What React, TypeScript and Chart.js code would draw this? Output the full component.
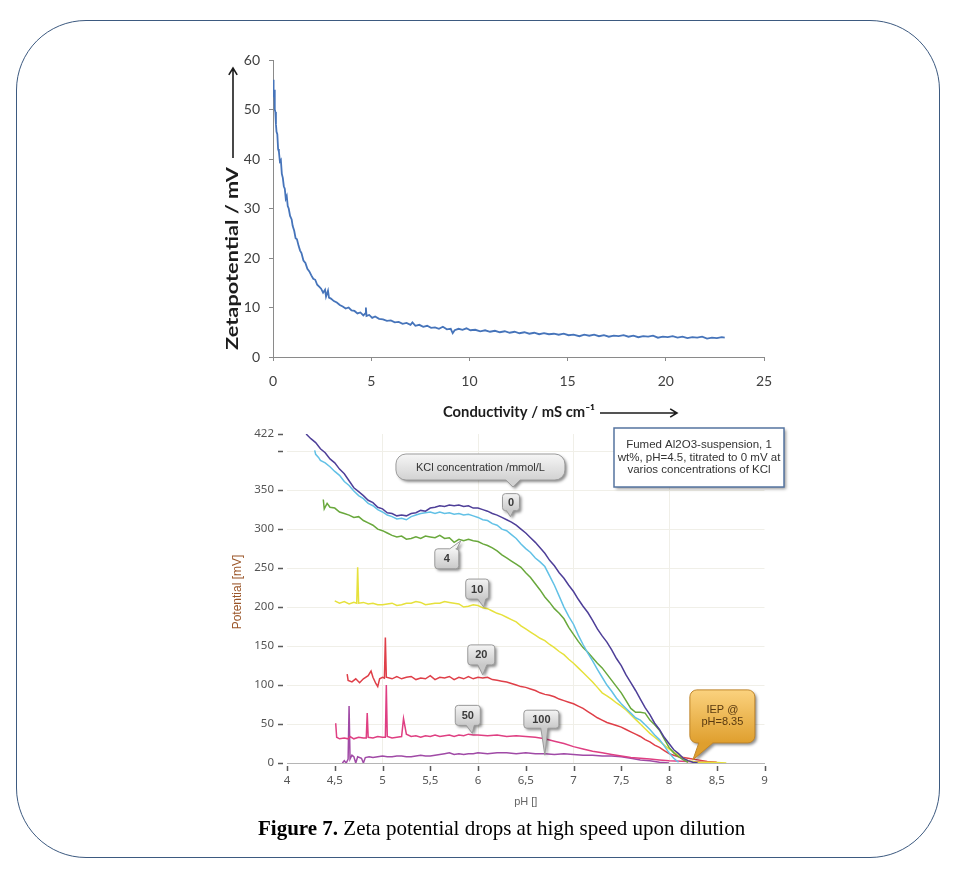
import React, { useEffect, useRef } from "react";
import { Chart, registerables } from "chart.js";

Chart.register(...registerables);

// ---------------- Top chart: conductivity (mS/cm) -> zeta potential (mV)
const zetaCurve: [number, number][] = [
  [0.0, 56.0], [0.03, 52.5], [0.06, 54.0], [0.09, 50.0], [0.12, 49.5], [0.15, 47.0],
  [0.18, 45.5], [0.22, 45.0], [0.26, 42.0], [0.3, 41.5], [0.35, 39.5], [0.4, 39.8],
  [0.45, 37.0], [0.5, 36.2], [0.55, 34.5], [0.6, 34.0], [0.65, 32.0], [0.7, 32.5],
  [0.75, 30.5], [0.8, 30.0], [0.87, 28.5], [0.95, 27.8], [1.0, 26.5], [1.08, 25.5],
  [1.15, 24.0], [1.22, 23.8], [1.3, 22.5], [1.38, 21.5], [1.45, 21.0], [1.55, 19.5],
  [1.65, 19.0], [1.75, 17.8], [1.85, 17.3], [1.95, 16.5], [2.05, 15.8], [2.15, 15.6],
  [2.25, 14.6], [2.35, 14.2], [2.45, 13.8], [2.55, 13.0], [2.65, 13.6], [2.7, 12.2],
  [2.8, 13.4], [2.85, 12.0], [2.95, 11.8], [3.1, 11.3], [3.25, 11.0], [3.4, 10.5],
  [3.55, 10.2], [3.7, 9.8], [3.85, 10.0], [4.0, 9.4], [4.15, 9.3], [4.3, 8.8],
  [4.45, 9.0], [4.6, 8.4], [4.7, 8.8], [4.73, 10.0], [4.76, 8.3], [4.9, 8.5],
  [5.05, 7.9], [5.2, 8.2], [5.4, 7.7], [5.6, 7.6], [5.8, 7.3], [6.0, 7.4],
  [6.2, 7.0], [6.4, 7.1], [6.6, 6.7], [6.8, 6.9], [7.0, 6.5], [7.1, 7.0],
  [7.25, 6.3], [7.45, 6.5], [7.65, 6.1], [7.85, 6.3], [8.05, 5.9], [8.25, 6.0],
  [8.45, 5.7], [8.65, 6.1], [8.85, 5.6], [9.05, 5.7], [9.15, 4.8], [9.25, 5.4],
  [9.45, 5.7], [9.65, 5.5], [9.85, 5.8], [10.05, 5.4], [10.3, 5.5], [10.55, 5.2],
  [10.8, 5.4], [11.05, 5.1], [11.3, 5.3], [11.55, 5.0], [11.8, 5.2], [12.05, 4.9],
  [12.3, 5.1], [12.55, 4.8], [12.8, 5.0], [13.05, 4.7], [13.3, 4.9], [13.55, 4.6],
  [13.8, 4.8], [14.05, 4.6], [14.3, 4.7], [14.55, 4.5], [14.8, 4.7], [15.05, 4.4],
  [15.3, 4.5], [15.6, 4.2], [15.85, 4.5], [16.1, 4.3], [16.35, 4.5], [16.6, 4.2],
  [16.85, 4.4], [17.1, 4.1], [17.35, 4.3], [17.6, 4.2], [17.85, 4.4], [18.1, 4.1],
  [18.35, 4.3], [18.6, 4.0], [18.85, 4.2], [19.1, 4.1], [19.35, 4.3], [19.6, 3.9],
  [19.85, 4.1], [20.1, 4.0], [20.35, 4.2], [20.6, 3.9], [20.85, 4.1], [21.1, 3.8],
  [21.35, 4.0], [21.6, 3.9], [21.85, 4.1], [22.1, 3.7], [22.35, 3.9], [22.6, 3.8],
  [22.85, 4.0], [23.0, 3.9],
];

// ---------------- Bottom chart: pH -> potential (mV) at KCl concentrations
const kcl0: [number, number][] = [
  [4.2, 422], [4.25, 416], [4.3, 411], [4.35, 403], [4.4, 398], [4.45, 390], [4.5, 385],
  [4.55, 377], [4.6, 371], [4.65, 362], [4.7, 353], [4.75, 348], [4.8, 343], [4.85, 337],
  [4.9, 334], [4.95, 328], [5.0, 326], [5.05, 321], [5.1, 320], [5.15, 317], [5.2, 318],
  [5.25, 317], [5.3, 320], [5.35, 321], [5.4, 324], [5.45, 323], [5.5, 327], [5.55, 328],
  [5.6, 330], [5.65, 329], [5.7, 331], [5.75, 330], [5.8, 331], [5.85, 329], [5.9, 330],
  [5.95, 327], [6.0, 327], [6.05, 325], [6.1, 323], [6.15, 320], [6.2, 318], [6.25, 315],
  [6.3, 312], [6.35, 309], [6.4, 305], [6.45, 300], [6.5, 295], [6.55, 289], [6.6, 283],
  [6.65, 276], [6.7, 269], [6.75, 260], [6.8, 253], [6.85, 244], [6.9, 237], [6.95, 228],
  [7.0, 220], [7.05, 210], [7.1, 201], [7.15, 193], [7.2, 183], [7.25, 172], [7.3, 163],
  [7.35, 155], [7.4, 145], [7.45, 134], [7.5, 125], [7.55, 113], [7.6, 103], [7.65, 93],
  [7.7, 82], [7.75, 71], [7.8, 62], [7.85, 51], [7.9, 43], [7.95, 33], [8.0, 25],
  [8.05, 17], [8.1, 12], [8.15, 6], [8.2, 3], [8.25, 1], [8.3, 0],
];

const kclUnlabelled: [number, number][] = [
  [4.29, 401], [4.3, 396], [4.33, 392], [4.35, 388], [4.4, 385], [4.45, 380], [4.5, 374],
  [4.55, 369], [4.6, 361], [4.65, 356], [4.7, 349], [4.75, 343], [4.8, 339], [4.85, 333],
  [4.9, 330], [4.95, 325], [5.0, 322], [5.05, 318], [5.1, 316], [5.15, 313], [5.2, 314],
  [5.25, 312], [5.3, 316], [5.35, 318], [5.4, 320], [5.45, 321], [5.5, 322], [5.55, 320],
  [5.6, 322], [5.65, 320], [5.7, 321], [5.75, 319], [5.8, 320], [5.85, 318], [5.9, 319],
  [5.95, 317], [6.0, 315], [6.05, 312], [6.1, 311], [6.15, 307], [6.2, 305], [6.25, 300],
  [6.3, 298], [6.35, 293], [6.4, 288], [6.45, 281], [6.5, 275], [6.55, 270], [6.6, 263],
  [6.65, 258], [6.7, 252], [6.75, 240], [6.8, 228], [6.85, 214], [6.9, 200], [6.95, 188],
  [7.0, 178], [7.05, 164], [7.1, 152], [7.15, 141], [7.2, 131], [7.25, 120], [7.3, 110],
  [7.35, 100], [7.4, 92], [7.45, 83], [7.5, 76], [7.55, 70], [7.6, 64], [7.65, 58],
  [7.7, 55], [7.75, 49], [7.8, 43], [7.85, 36], [7.9, 30], [7.95, 22], [8.0, 13],
  [8.05, 6], [8.1, 1],
];

const kcl4: [number, number][] = [
  [4.38, 338], [4.39, 326], [4.42, 333], [4.45, 328], [4.5, 327], [4.55, 322], [4.6, 320],
  [4.65, 318], [4.7, 315], [4.75, 316], [4.8, 311], [4.85, 308], [4.9, 305], [4.95, 300],
  [5.0, 298], [5.05, 295], [5.1, 292], [5.15, 290], [5.2, 291], [5.25, 287], [5.3, 288],
  [5.35, 290], [5.4, 288], [5.45, 291], [5.5, 290], [5.55, 289], [5.6, 292], [5.65, 288],
  [5.7, 289], [5.75, 283], [5.8, 287], [5.85, 285], [5.9, 287], [5.95, 285], [6.0, 284],
  [6.05, 281], [6.1, 279], [6.15, 276], [6.2, 272], [6.25, 267], [6.3, 263], [6.35, 259],
  [6.4, 255], [6.45, 251], [6.5, 244], [6.55, 238], [6.6, 230], [6.65, 222], [6.7, 213],
  [6.75, 206], [6.8, 198], [6.85, 192], [6.9, 185], [6.95, 174], [7.0, 165], [7.05, 156],
  [7.1, 148], [7.15, 142], [7.2, 135], [7.25, 128], [7.3, 122], [7.35, 114], [7.4, 106],
  [7.45, 98], [7.5, 90], [7.55, 80], [7.6, 70], [7.65, 65], [7.7, 65], [7.75, 64],
  [7.8, 55], [7.85, 49], [7.9, 42], [7.95, 31], [8.0, 20], [8.05, 13], [8.1, 8],
  [8.15, 4], [8.2, 1],
];

const kcl10: [number, number][] = [
  [4.5, 208], [4.55, 205], [4.6, 207], [4.65, 204], [4.7, 206], [4.73, 205], [4.74, 251],
  [4.75, 205], [4.8, 206], [4.85, 204], [4.9, 205], [4.95, 203], [5.0, 203], [5.05, 204],
  [5.1, 205], [5.15, 202], [5.2, 203], [5.25, 205], [5.3, 205], [5.35, 207], [5.4, 206],
  [5.45, 203], [5.5, 204], [5.55, 205], [5.6, 205], [5.65, 207], [5.7, 206], [5.75, 205],
  [5.8, 204], [5.85, 200], [5.9, 201], [5.95, 203], [6.0, 202], [6.05, 199], [6.1, 198],
  [6.15, 195], [6.2, 192], [6.25, 190], [6.3, 187], [6.35, 184], [6.4, 181], [6.45, 176],
  [6.5, 172], [6.55, 168], [6.6, 164], [6.65, 160], [6.7, 157], [6.75, 152], [6.8, 148],
  [6.85, 143], [6.9, 139], [6.95, 133], [7.0, 128], [7.05, 122], [7.1, 116], [7.15, 110],
  [7.2, 104], [7.25, 97], [7.3, 90], [7.35, 86], [7.4, 82], [7.45, 77], [7.5, 73],
  [7.55, 68], [7.6, 62], [7.65, 56], [7.7, 50], [7.75, 44], [7.8, 38], [7.85, 33],
  [7.9, 28], [7.95, 23], [8.0, 18], [8.05, 14], [8.1, 10], [8.15, 6], [8.2, 3],
  [8.3, 1], [8.45, 1], [8.6, 0],
];

const kcl20: [number, number][] = [
  [4.63, 114], [4.64, 106], [4.68, 104], [4.72, 108], [4.76, 103], [4.8, 108], [4.85, 112],
  [4.88, 118], [4.9, 110], [4.93, 102], [4.95, 98], [4.97, 108], [5.0, 110], [5.02, 109],
  [5.03, 161], [5.04, 110], [5.1, 108], [5.15, 111], [5.2, 108], [5.25, 110], [5.3, 111],
  [5.35, 107], [5.4, 109], [5.45, 108], [5.5, 112], [5.55, 107], [5.6, 110], [5.65, 109],
  [5.7, 111], [5.75, 107], [5.8, 110], [5.85, 108], [5.9, 111], [5.95, 108], [6.0, 110],
  [6.05, 109], [6.1, 110], [6.15, 107], [6.2, 106], [6.25, 105], [6.3, 104], [6.35, 102],
  [6.4, 100], [6.45, 98], [6.5, 97], [6.55, 95], [6.6, 93], [6.65, 90], [6.7, 88],
  [6.75, 87], [6.8, 85], [6.85, 82], [6.9, 80], [6.95, 78], [7.0, 76], [7.05, 73],
  [7.1, 70], [7.15, 66], [7.2, 62], [7.25, 58], [7.3, 55], [7.35, 52], [7.4, 50],
  [7.45, 48], [7.5, 46], [7.55, 43], [7.6, 40], [7.65, 37], [7.7, 34], [7.75, 30],
  [7.8, 27], [7.85, 23], [7.9, 20], [7.95, 16], [8.0, 12], [8.05, 10], [8.1, 8],
  [8.2, 6], [8.3, 4], [8.4, 2], [8.5, 1],
];

const kcl50: [number, number][] = [
  [4.51, 51], [4.52, 33], [4.55, 31], [4.6, 32], [4.64, 31], [4.66, 34], [4.7, 31],
  [4.75, 33], [4.8, 32], [4.83, 32], [4.84, 64], [4.85, 33], [4.9, 32], [4.95, 34],
  [5.0, 33], [5.03, 33], [5.04, 100], [5.05, 34], [5.1, 32], [5.15, 33], [5.2, 34],
  [5.22, 57], [5.25, 37], [5.3, 34], [5.35, 35], [5.4, 33], [5.45, 35], [5.5, 34],
  [5.55, 36], [5.6, 34], [5.65, 35], [5.7, 36], [5.75, 34], [5.8, 36], [5.85, 35],
  [5.9, 37], [5.95, 36], [6.0, 36], [6.1, 35], [6.2, 36], [6.3, 34], [6.4, 35],
  [6.5, 34], [6.6, 33], [6.7, 31], [6.8, 28], [6.9, 25], [7.0, 21], [7.1, 18],
  [7.2, 15], [7.3, 13], [7.4, 11], [7.5, 9], [7.6, 7], [7.7, 6], [7.8, 5],
  [7.9, 4], [8.0, 3], [8.2, 2], [8.4, 1], [8.55, 0],
];

const kcl100: [number, number][] = [
  [4.58, 0], [4.6, 3], [4.62, 0], [4.64, 5], [4.65, 73], [4.66, 5], [4.68, 10],
  [4.7, 8], [4.72, 0], [4.74, 8], [4.78, 6], [4.8, 0], [4.82, 7], [4.86, 8],
  [4.9, 7], [4.95, 8], [5.0, 9], [5.05, 8], [5.1, 8], [5.15, 9], [5.2, 9],
  [5.25, 8], [5.3, 8], [5.35, 9], [5.4, 10], [5.45, 9], [5.5, 9], [5.55, 10],
  [5.6, 11], [5.65, 12], [5.7, 13], [5.75, 11], [5.8, 12], [5.85, 11], [5.9, 12],
  [5.95, 12], [6.0, 13], [6.1, 12], [6.2, 13], [6.3, 13], [6.4, 12], [6.5, 13],
  [6.6, 12], [6.7, 12], [6.8, 11], [6.9, 12], [7.0, 11], [7.1, 10], [7.2, 10],
  [7.3, 9], [7.4, 9], [7.5, 8], [7.6, 6], [7.7, 4], [7.8, 3], [7.9, 1], [8.0, 0],
];

const potTicks = [0, 50, 100, 150, 200, 250, 300, 350, 400, 422];
const potTickLabels = ["0", "50", "100", "150", "200", "250", "300", "350", "", "422"];

const bubbleTexts = ["0", "4", "10", "20", "50", "100"];
const bubblePH = [6.34, 5.82, 6.06, 6.05, 5.94, 6.7];
const bubbleMV = [316, 285, 200, 113, 38, 10];

const iepLines = ["IEP @", "pH=8.35"];
const iepPH = 8.25;
const iepMV = 4;

const kclCaption = "KCl concentration /mmol/L";
const kclCaptionPH = 6.366;
const kclCaptionMV = 354;

const infoLines = [
  "Fumed Al2O3-suspension, 1",
  "wt%, pH=4.5, titrated to 0 mV at",
  "varios concentrations of KCl",
];

// ---------------- layout / style (not data)
const bubbleGeom = [
  { x: -8, y: -23, w: 17, h: 17, side: "bottom", b0: -4, b1: 3 },
  { x: -26, y: 8, w: 24, h: 20, side: "top", b0: -11, b1: -4 },
  { x: -18, y: -28, w: 23, h: 20, side: "bottom", b0: -6, b1: 2 },
  { x: -15, y: -30, w: 27, h: 20, side: "bottom", b0: -5, b1: 4 },
  { x: -17, y: -28, w: 25, h: 20, side: "bottom", b0: -6, b1: 2 },
  { x: -21, y: -45, w: 35, h: 18, side: "bottom", b0: -4, b1: 3 },
];

const SANS = "'Liberation Sans', Arial, sans-serif";

function bubblePath(
  ctx: CanvasRenderingContext2D, x: number, y: number, w: number, h: number, r: number,
  side: string, b0: number, b1: number, tx: number, ty: number
) {
  ctx.beginPath();
  ctx.moveTo(x + r, y);
  if (side === "top") {
    ctx.lineTo(b0, y);
    ctx.lineTo(tx, ty);
    ctx.lineTo(b1, y);
  }
  ctx.lineTo(x + w - r, y);
  ctx.arcTo(x + w, y, x + w, y + r, r);
  ctx.lineTo(x + w, y + h - r);
  ctx.arcTo(x + w, y + h, x + w - r, y + h, r);
  if (side === "bottom") {
    ctx.lineTo(b1, y + h);
    ctx.lineTo(tx, ty);
    ctx.lineTo(b0, y + h);
  }
  ctx.lineTo(x + r, y + h);
  ctx.arcTo(x, y + h, x, y + h - r, r);
  ctx.lineTo(x, y + r);
  ctx.arcTo(x, y, x + r, y, r);
  ctx.closePath();
}

function drawBubble(
  ctx: CanvasRenderingContext2D, x: number, y: number, w: number, h: number, r: number,
  side: string, b0: number, b1: number, tx: number, ty: number,
  c0: string, c1: string, stroke: string
) {
  ctx.save();
  const g = ctx.createLinearGradient(0, y, 0, y + h);
  g.addColorStop(0, c0);
  g.addColorStop(1, c1);
  bubblePath(ctx, x, y, w, h, r, side, b0, b1, tx, ty);
  ctx.shadowColor = "rgba(0,0,0,0.45)";
  ctx.shadowBlur = 3;
  ctx.shadowOffsetX = 2;
  ctx.shadowOffsetY = 2;
  ctx.fillStyle = g;
  ctx.fill();
  ctx.shadowColor = "rgba(0,0,0,0)";
  ctx.strokeStyle = stroke;
  ctx.lineWidth = 1;
  ctx.stroke();
  ctx.restore();
}

function arrow(ctx: CanvasRenderingContext2D, x1: number, y1: number, x2: number, y2: number) {
  const a = Math.atan2(y2 - y1, x2 - x1);
  const s = 8;
  ctx.beginPath();
  ctx.moveTo(x1, y1);
  ctx.lineTo(x2, y2);
  ctx.moveTo(x2 - s * Math.cos(a - 0.55), y2 - s * Math.sin(a - 0.55));
  ctx.lineTo(x2, y2);
  ctx.lineTo(x2 - s * Math.cos(a + 0.55), y2 - s * Math.sin(a + 0.55));
  ctx.stroke();
}

// draws text (left-aligned at 0) stretched/compressed to an exact width
function fitText(ctx: CanvasRenderingContext2D, text: string, width: number) {
  const w = ctx.measureText(text).width;
  ctx.save();
  ctx.scale(width / w, 1);
  ctx.fillText(text, 0, 0);
  ctx.restore();
}

const topDecor = {
  id: "topDecor",
  afterDraw(chart: any) {
    const { ctx, chartArea: ca } = chart;
    ctx.save();
    ctx.fillStyle = "#1c1c1c";
    ctx.strokeStyle = "#1c1c1c";
    ctx.lineWidth = 1.6;
    ctx.font = "bold 17px Lato, 'Open Sans', sans-serif";
    ctx.textAlign = "left";
    ctx.textBaseline = "middle";
    ctx.save();
    ctx.translate(ca.left - 40, ca.bottom - 7);
    ctx.rotate(-Math.PI / 2);
    fitText(ctx, "Zetapotential / mV", 183);
    ctx.restore();
    arrow(ctx, ca.left - 40, ca.bottom - 199, ca.left - 40, ca.top + 8);
    ctx.font = "bold 15px Lato, 'Open Sans', sans-serif";
    ctx.save();
    ctx.translate(ca.left + 170, ca.bottom + 55);
    fitText(ctx, "Conductivity / mS cm\u207B\u00B9", 152);
    ctx.restore();
    arrow(ctx, ca.left + 327, ca.bottom + 56, ca.left + 404, ca.bottom + 56);
    ctx.restore();
  },
};

const bottomDecor = {
  id: "bottomDecor",
  afterDraw(chart: any) {
    const { ctx, chartArea: ca, scales } = chart;
    const xs = scales.x;
    const ys = scales.y;
    ctx.save();

    // tick marks (detached from the axis)
    ctx.strokeStyle = "#5a5a5a";
    ctx.lineWidth = 1.5;
    ctx.beginPath();
    potTicks.forEach((v) => {
      const y = Math.round(ys.getPixelForValue(v)) + 0.5;
      ctx.moveTo(ca.left - 9, y);
      ctx.lineTo(ca.left - 4, y);
    });
    xs.ticks.forEach((t: any) => {
      const x = Math.round(xs.getPixelForValue(t.value)) + 0.5;
      ctx.moveTo(x, ca.bottom + 3);
      ctx.lineTo(x, ca.bottom + 8);
    });
    ctx.stroke();

    // axis titles
    ctx.font = `12px ${SANS}`;
    ctx.fillStyle = "#9a5528";
    ctx.textAlign = "center";
    ctx.textBaseline = "middle";
    ctx.save();
    ctx.translate(ca.left - 49, ca.bottom - 171);
    ctx.rotate(-Math.PI / 2);
    ctx.fillText("Potential [mV]", 0, 0);
    ctx.restore();
    ctx.font = `11px ${SANS}`;
    ctx.fillStyle = "#666";
    ctx.fillText("pH []", (ca.left + ca.right) / 2, ca.bottom + 39);

    // info box (top right)
    const bx = ca.right - 150.5;
    const by = ca.top - 6;
    ctx.save();
    ctx.shadowColor = "rgba(0,0,0,0.4)";
    ctx.shadowBlur = 3;
    ctx.shadowOffsetX = 2;
    ctx.shadowOffsetY = 2;
    ctx.fillStyle = "#ffffff";
    ctx.fillRect(bx, by, 170, 59);
    ctx.restore();
    ctx.strokeStyle = "#5574a0";
    ctx.lineWidth = 1.5;
    ctx.strokeRect(bx, by, 170, 59);
    ctx.font = `11.5px ${SANS}`;
    ctx.fillStyle = "#333";
    infoLines.forEach((line, i) => {
      ctx.fillText(line, bx + 85, by + 17 + i * 12.5, 164);
    });

    // KCl caption callout
    {
      const tx = xs.getPixelForValue(kclCaptionPH);
      const ty = ys.getPixelForValue(kclCaptionMV);
      const x = tx - 117;
      const y = ty - 33;
      drawBubble(ctx, x, y, 169, 26, 10, "bottom", tx - 7, tx + 7, tx, ty, "#f6f6f6", "#d2d2d2", "#9c9c9c");
      ctx.font = `11px ${SANS}`;
      ctx.fillStyle = "#333";
      ctx.fillText(kclCaption, x + 84.5, y + 13.5, 130);
    }

    // concentration labels
    bubbleTexts.forEach((txt, i) => {
      const g = bubbleGeom[i];
      const tx = xs.getPixelForValue(bubblePH[i]);
      const ty = ys.getPixelForValue(bubbleMV[i]);
      const x = tx + g.x;
      const y = ty + g.y;
      drawBubble(ctx, x, y, g.w, g.h, 3, g.side, tx + g.b0, tx + g.b1, tx, ty, "#f4f4f4", "#c9c9c9", "#9a9a9a");
      ctx.font = `bold 11px ${SANS}`;
      ctx.fillStyle = "#3a3a3a";
      ctx.fillText(txt, x + g.w / 2, y + g.h / 2 + 0.5);
    });

    // IEP callout
    {
      const tx = xs.getPixelForValue(iepPH);
      const ty = ys.getPixelForValue(iepMV);
      const x = tx - 3;
      const y = ty - 70;
      drawBubble(ctx, x, y, 65, 53, 7, "bottom", tx + 6, tx + 20, tx, ty, "#fbd27e", "#df9f2e", "#c0862a");
      ctx.font = `11px ${SANS}`;
      ctx.fillStyle = "#5a3a10";
      ctx.fillText(iepLines[0], x + 32.5, y + 20);
      ctx.fillText(iepLines[1], x + 32.5, y + 32);
    }

    ctx.restore();
  },
};

const toPts = (arr: [number, number][]) => arr.map(([x, y]) => ({ x, y }));

export default function App() {
  const topRef = useRef<HTMLCanvasElement>(null);
  const botRef = useRef<HTMLCanvasElement>(null);

  useEffect(() => {
    const top = new Chart(topRef.current as HTMLCanvasElement, {
      type: "line",
      data: {
        datasets: [
          {
            label: "Zeta potential",
            data: toPts(zetaCurve),
            borderColor: "#4674ba",
            borderWidth: 1.8,
            pointRadius: 0,
            tension: 0,
            fill: false,
          },
        ],
      },
      options: {
        responsive: false,
        animation: false,
        devicePixelRatio: 1,
        layout: { padding: { left: 233, right: 195, top: 60, bottom: 475 } },
        plugins: { legend: { display: false }, tooltip: { enabled: false } },
        scales: {
          x: {
            type: "linear",
            min: 0,
            max: 25,
            ticks: {
              stepSize: 5,
              color: "#404040",
              font: { family: "Lato, 'Open Sans', sans-serif", size: 14 },
              padding: 12,
              maxRotation: 0,
            },
            grid: { drawOnChartArea: false, drawTicks: true, tickLength: 4, color: "#8a8a8a" },
            border: { color: "#8a8a8a" },
            afterFit: (s: any) => {
              s.height = 40;
              s.paddingLeft = 0;
              s.paddingRight = 0;
            },
          },
          y: {
            type: "linear",
            min: 0,
            max: 60,
            ticks: {
              stepSize: 10,
              color: "#404040",
              font: { family: "Lato, 'Open Sans', sans-serif", size: 14 },
              padding: 9,
            },
            grid: { drawOnChartArea: false, drawTicks: true, tickLength: 4, color: "#8a8a8a" },
            border: { color: "#8a8a8a" },
            afterFit: (s: any) => {
              s.width = 40;
              s.paddingTop = 0;
              s.paddingBottom = 0;
            },
          },
        },
      },
      plugins: [topDecor],
    } as any);

    const mk = (label: string, arr: [number, number][], color: string) => ({
      label,
      data: toPts(arr),
      borderColor: color,
      borderWidth: 1.5,
      pointRadius: 0,
      tension: 0,
      fill: false,
    });

    const bottom = new Chart(botRef.current as HTMLCanvasElement, {
      type: "line",
      data: {
        datasets: [
          mk("0 mmol/L", kcl0, "#4e3f98"),
          mk("reference", kclUnlabelled, "#62c1e6"),
          mk("4 mmol/L", kcl4, "#69a83c"),
          mk("10 mmol/L", kcl10, "#e6e13c"),
          mk("20 mmol/L", kcl20, "#df3f48"),
          mk("50 mmol/L", kcl50, "#df3f82"),
          mk("100 mmol/L", kcl100, "#a04aa6"),
        ],
      },
      options: {
        responsive: false,
        animation: false,
        devicePixelRatio: 1,
        layout: { padding: { left: 237, right: 194.5, top: 434, bottom: 69 } },
        plugins: { legend: { display: false }, tooltip: { enabled: false } },
        scales: {
          x: {
            type: "linear",
            min: 4,
            max: 9,
            ticks: {
              stepSize: 0.5,
              autoSkip: false,
              maxRotation: 0,
              padding: 11,
              color: "#555",
              font: { family: "'Noto Sans', sans-serif", size: 11.5 },
              callback: (v: any) => String(v).replace(".", ","),
            },
            grid: {
              drawTicks: false,
              color: (c: any) => {
                const v = c.tick ? c.tick.value : 0;
                return Number.isInteger(v) && v > 4 && v < 9 ? "#f0efe8" : "rgba(0,0,0,0)";
              },
            },
            border: { display: true, color: "#b5b5b5" },
            afterFit: (s: any) => {
              s.height = 40;
              s.paddingLeft = 0;
              s.paddingRight = 0;
            },
          },
          y: {
            type: "linear",
            min: 0,
            max: 422,
            afterBuildTicks: (s: any) => {
              s.ticks = potTicks.map((v) => ({ value: v }));
            },
            ticks: {
              autoSkip: false,
              padding: 13,
              color: "#555",
              font: { family: "'Noto Sans', sans-serif", size: 11.5 },
              callback: (_v: any, i: number) => potTickLabels[i],
            },
            grid: {
              drawTicks: false,
              color: (c: any) => {
                const v = c.tick ? c.tick.value : 0;
                return v === 422 || v === 0 ? "rgba(0,0,0,0)" : "#f0efe8";
              },
            },
            border: { display: false },
            afterFit: (s: any) => {
              s.width = 50;
              s.paddingTop = 0;
              s.paddingBottom = 0;
            },
          },
        },
      },
      plugins: [bottomDecor],
    } as any);

    return () => {
      top.destroy();
      bottom.destroy();
    };
  }, []);

  return (
    <div style={{ position: "absolute", left: 0, top: 0, width: 959, height: 872, background: "#fff", overflow: "hidden" }}>
      <div
        style={{
          position: "absolute",
          left: 16,
          top: 20,
          width: 924,
          height: 838,
          boxSizing: "border-box",
          border: "1.3px solid #3d5a80",
          borderRadius: 70,
        }}
      />
      <canvas ref={topRef} width={959} height={872} style={{ position: "absolute", left: 0, top: 0 }} />
      <canvas ref={botRef} width={959} height={872} style={{ position: "absolute", left: 0, top: 0 }} />
      <div
        style={{
          position: "absolute",
          left: 258,
          top: 818,
          fontFamily: "'Liberation Serif', 'Times New Roman', serif",
          fontSize: 21,
          lineHeight: "21px",
          color: "#000",
          whiteSpace: "nowrap",
        }}
      >
        <b>Figure 7.</b> Zeta potential drops at high speed upon dilution
      </div>
    </div>
  );
}
